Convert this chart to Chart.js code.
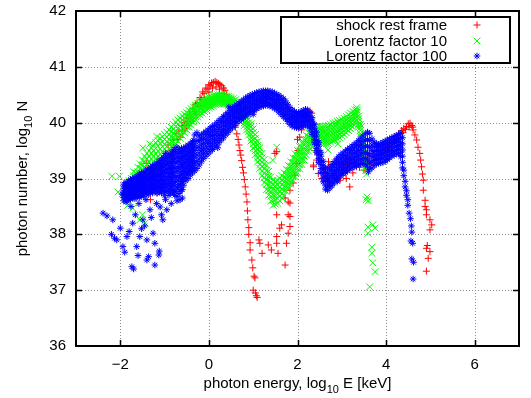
<!DOCTYPE html>
<html><head><meta charset="utf-8">
<script src="https://cdn.jsdelivr.net/npm/chart.js@4.4.1/dist/chart.umd.min.js"></script>
<style>html,body{margin:0;padding:0;background:#fff;}#wrap{width:531px;height:398px;position:relative}</style>
</head><body><div id="wrap"><canvas id="c" width="531" height="398"></canvas></div>
<script>
const xTicks = [-2, 0, 2, 4, 6];
const yTicks = [36, 37, 38, 39, 40, 41, 42];
const seriesNames = ['shock rest frame', 'Lorentz factor 10', 'Lorentz factor 100'];

// Each row: [log10 E, log10 N values read at that energy ...]
// shock rest frame
const redRows = [
[-1.56,38.95],[-1.5,39.1],[-1.45,38.8],[-1.4,39.27],[-1.38,39.0],[-1.32,38.62],[-1.29,38.85],[-1.25,39.15],[-1.2,38.95],[-1.17,38.74],[-1.15,39.35],[-1.1,39.06],[-1.06,39.2],[-1.02,38.9],[-0.98,39.45],[-0.95,39.27],[-0.92,39.6],[-0.88,39.38],[-0.86,39.2],[-0.84,39.5],[-0.81,39.69],[-0.8,39.56],[-0.77,39.42],[-0.74,39.8],[-0.7,39.7],[-0.68,39.85],[-0.65,39.74],[-0.62,39.95],[-0.6,39.85],[-0.56,40.0],[-0.54,39.9],[-0.5,40.08,39.95],[-0.47,40.02],[-0.43,40.15],[-0.4,40.1,40.02],[-0.36,40.25],[-0.33,40.2],[-0.3,40.33,40.15],[-0.27,40.35],[-0.24,40.3],[-0.2,40.45,40.3],[-0.17,40.42],[-0.14,40.55],[-0.11,40.52],[-0.1,40.42],[-0.07,40.62],[-0.04,40.6],[0.0,40.68,40.55],[0.03,40.66],[0.06,40.71],[0.08,40.62],[0.1,40.72],[0.14,40.74],[0.16,40.64],[0.18,40.72],[0.22,40.7],[0.24,40.6],[0.25,40.68],[0.29,40.66],[0.32,40.52],[0.33,40.62],[0.36,40.58],[0.4,40.5,40.4],[0.44,40.42],[0.48,40.35],[0.52,40.25],[0.55,40.12],[0.58,40.0],[0.6,39.92],[0.63,39.8],[0.66,39.7],[0.68,39.6],[0.7,39.5],[0.72,39.42],[0.74,39.32],[0.76,39.2],[0.78,39.1],[0.8,38.98],[0.82,38.85],[0.84,38.72],[0.86,38.58],[0.87,38.42],[0.88,38.26],[0.9,38.12,38.0],[0.93,37.85,37.72],[0.97,37.54],[0.99,37.4],[1.02,37.25],[1.04,37.22],[1.0,37.0],[1.05,36.95],[1.07,36.9],[1.09,36.87],[1.13,37.9],[1.15,37.84],[1.2,37.66],
[1.34,37.81],[1.41,37.72],[1.53,38.35,37.96,37.84],[1.56,37.66],[1.6,38.11],[1.64,38.17],[1.72,37.45],[1.75,37.84],[1.79,38.02,38.35,38.58],[1.72,38.65],[1.83,38.79,38.56,38.32,38.14],[1.53,39.48],[1.49,39.45],
[1.9,38.92],[1.94,39.06],[1.98,39.27],[2.01,39.5],[2.05,39.74],[2.09,39.87],[2.0,39.7],[2.12,39.95],[2.17,40.1],[2.2,40.14],[2.24,40.2],[2.28,40.2],[2.32,40.17],[2.36,39.99,39.21,39.24],[2.39,39.74,39.5],[2.43,39.33],[2.47,39.09],[2.46,39.42],
[2.55,39.0],[2.6,39.2],[2.62,39.1],[2.65,39.05],[2.7,38.95,39.3],[2.73,38.92],[2.75,39.2],[2.8,39.05,39.25],[2.85,39.1],[2.88,39.15],[2.9,39.0,39.35],[2.95,39.25],[2.96,38.97],[3.0,39.1,39.3],[3.05,39.2],[3.1,39.0,39.35],[3.11,39.15],[3.15,39.25],[3.18,38.85],[3.2,39.3],[3.25,39.1],[3.28,39.35],[3.3,39.25],[3.33,39.21],[3.35,39.4],[3.4,39.2],[3.42,39.28],[3.45,39.35],[3.5,39.15,39.3],[3.55,39.42],[3.56,39.27],[3.6,39.35],[3.62,39.45],[3.65,39.25],[3.7,39.45],[3.71,39.39],[3.75,39.32],[3.8,39.35,39.48],[3.85,39.42],[3.9,39.42],[3.93,39.51],[3.95,39.6],[4.0,39.5,39.6],[4.05,39.55],[4.08,39.62],[4.12,39.65],[4.16,39.69],[4.2,39.75],[4.22,39.68],[4.25,39.72],[4.28,39.76],[4.31,39.81],[4.35,39.86],[4.38,39.82],[4.4,39.9],[4.44,39.88],[4.46,39.93],[4.5,39.98],[4.52,39.92],[4.54,39.99],[4.58,39.95],[4.6,39.92],[4.61,39.87],[4.65,39.78],[4.69,39.69],[4.72,39.56],[4.76,39.45],[4.78,39.33],[4.8,39.21],[4.82,39.08],[4.84,38.97,38.79],[4.88,38.61,38.5],[4.91,38.44,38.35],[4.99,38.26,38.08],[5.03,38.17],[4.91,37.75,37.34],[4.99,37.69],[4.95,37.57],[4.93,37.8]
];

// Lorentz factor 10
const greenRows = [
[-2.19,39.04],[-2.02,39.04],[-2.05,38.76],[-1.83,38.52],[-1.72,38.47],[-1.56,38.26],[-1.44,38.2],[-1.5,38.35],
[-1.49,39.55],[-1.33,39.62],[-1.17,39.75],[2.69,39.51],[2.91,39.62],[1.53,39.56],[1.44,39.33],
[-1.85,38.72,38.78,38.84,38.9],[-1.8,38.7,38.77,38.83,38.9,38.96],[-1.75,38.74,38.8,38.87,38.94,39.0],[-1.7,38.76,38.83,38.9,38.98,39.05,39.12],[-1.65,38.8,38.86,38.92,38.98,39.04,39.1],[-1.6,38.8,38.88,38.96,39.04,39.12,39.2],[-1.55,38.85,38.93,39.01,39.1,39.18,39.26],[-1.5,38.9,38.99,39.07,39.16,39.24,39.33],[-1.45,38.93,39.02,39.12,39.21,39.31,39.4],[-1.4,38.96,39.06,39.16,39.25,39.35,39.45],[-1.35,39.0,39.1,39.2,39.3,39.4,39.5],[-1.3,39.05,39.15,39.25,39.35,39.45,39.55],[-1.25,39.1,39.2,39.3,39.4,39.5,39.6],[-1.2,39.15,39.25,39.35,39.44,39.54,39.64],[-1.15,39.2,39.3,39.39,39.49,39.58,39.68],[-1.1,39.25,39.34,39.44,39.53,39.63,39.72],[-1.05,39.3,39.39,39.48,39.57,39.66,39.75],[-1.0,39.35,39.44,39.53,39.61,39.7,39.79],[-0.95,39.4,39.49,39.57,39.66,39.74,39.83],[-0.9,39.45,39.53,39.62,39.7,39.79,39.87],[-0.85,39.5,39.58,39.67,39.75,39.84,39.92],[-0.8,39.58,39.66,39.74,39.81,39.89,39.97],[-0.75,39.62,39.7,39.78,39.85,39.93,40.01],[-0.7,39.67,39.75,39.82,39.9,39.97,40.05],[-0.65,39.72,39.79,39.86,39.94,40.01,40.08],[-0.6,39.77,39.84,39.91,39.98,40.05,40.12],[-0.55,39.82,39.89,39.95,40.02,40.08,40.15],[-0.5,39.87,39.93,39.99,40.06,40.12,40.18],[-0.45,39.92,39.98,40.04,40.1,40.16,40.22],[-0.4,39.96,40.02,40.08,40.13,40.19,40.25],[-0.35,40.01,40.06,40.12,40.17,40.23,40.28],[-0.3,40.06,40.11,40.16,40.21,40.26,40.31],[-0.25,40.1,40.15,40.2,40.24,40.29,40.34],[-0.2,40.14,40.19,40.24,40.28,40.33,40.38],[-0.15,40.17,40.22,40.26,40.31,40.35,40.4],[-0.1,40.2,40.24,40.29,40.33,40.38,40.42],[-0.05,40.23,40.27,40.31,40.36,40.4,40.44],[0.0,40.26,40.3,40.34,40.38,40.42,40.46],[0.05,40.28,40.32,40.36,40.39,40.43,40.47],[0.1,40.3,40.34,40.37,40.41,40.44,40.48],[0.15,40.32,40.35,40.39,40.42,40.46,40.49],[0.2,40.33,40.36,40.4,40.43,40.47,40.5],[0.25,40.34,40.37,40.4,40.44,40.47,40.5],[0.3,40.34,40.37,40.4,40.44,40.47,40.5],[0.35,40.34,40.37,40.4,40.43,40.46,40.49],[0.4,40.33,40.36,40.39,40.42,40.45,40.48],[0.45,40.31,40.34,40.37,40.41,40.44,40.47],[0.5,40.28,40.31,40.35,40.38,40.42,40.45],[0.55,40.25,40.29,40.32,40.36,40.39,40.43],[0.6,40.2,40.24,40.28,40.33,40.37,40.41],[0.65,40.15,40.19,40.24,40.28,40.33,40.37],[0.7,40.1,40.14,40.19,40.23,40.28,40.32],[0.75,40.03,40.08,40.13,40.17,40.22,40.27],[0.8,39.95,40.0,40.05,40.11,40.16,40.21],[0.85,39.87,39.92,39.98,40.03,40.09,40.14],[0.9,39.78,39.84,39.89,39.95,40.0,40.06],[0.95,39.67,39.73,39.79,39.86,39.92,39.98],[1.0,39.55,39.62,39.69,39.75,39.82,39.89],[1.05,39.43,39.5,39.57,39.65,39.72,39.79],[1.1,39.3,39.37,39.44,39.52,39.59,39.66],[1.15,39.18,39.25,39.33,39.4,39.48,39.55],[1.2,39.05,39.13,39.21,39.29,39.37,39.45],[1.25,38.93,39.01,39.09,39.18,39.26,39.34],[1.3,38.8,38.89,38.98,39.06,39.15,39.24],[1.35,38.7,38.79,38.87,38.96,39.04,39.13],[1.4,38.6,38.69,38.77,38.86,38.94,39.03],[1.45,38.52,38.61,38.7,38.79,38.88,38.97],[1.5,38.54,38.62,38.71,38.79,38.87,38.95],[1.55,38.56,38.64,38.72,38.81,38.89,38.97],[1.6,38.6,38.68,38.76,38.84,38.92,39.0],[1.65,38.65,38.73,38.81,38.89,38.97,39.05],[1.7,38.7,38.78,38.86,38.94,39.02,39.1],[1.75,38.77,38.85,38.93,39.0,39.08,39.16],[1.8,38.83,38.91,38.99,39.07,39.15,39.23],[1.85,38.9,38.98,39.06,39.14,39.22,39.3],[1.9,38.97,39.05,39.13,39.21,39.29,39.37],[1.95,39.03,39.11,39.19,39.28,39.36,39.44],[2.0,39.1,39.18,39.26,39.34,39.42,39.5],[2.05,39.17,39.25,39.33,39.41,39.49,39.57],[2.1,39.25,39.33,39.41,39.48,39.56,39.64],[2.15,39.33,39.4,39.48,39.55,39.63,39.7],[2.2,39.42,39.49,39.56,39.63,39.7,39.77],[2.25,39.49,39.56,39.62,39.69,39.75,39.82],[2.3,39.54,39.6,39.67,39.73,39.8,39.86],[2.35,39.58,39.64,39.71,39.77,39.83,39.89],[2.4,39.6,39.66,39.73,39.79,39.86,39.92],[2.45,39.62,39.68,39.74,39.81,39.87,39.93],[2.5,39.64,39.7,39.76,39.82,39.88,39.94],[2.55,39.63,39.69,39.75,39.81,39.87,39.93],[2.6,39.62,39.68,39.74,39.81,39.87,39.93],[2.65,39.62,39.68,39.75,39.81,39.88,39.94],[2.7,39.63,39.69,39.76,39.82,39.89,39.95],[2.75,39.65,39.71,39.78,39.84,39.91,39.97],[2.8,39.67,39.73,39.8,39.86,39.93,39.99],[2.85,39.69,39.75,39.82,39.88,39.94,40.0],[2.9,39.71,39.77,39.84,39.9,39.96,40.02],[2.95,39.73,39.79,39.86,39.92,39.98,40.04],[3.0,39.76,39.82,39.88,39.94,40.0,40.06],[3.05,39.79,39.85,39.91,39.96,40.02,40.08],[3.1,39.82,39.88,39.94,39.99,40.05,40.11],[3.15,39.86,39.92,39.97,40.03,40.08,40.14],[3.2,39.89,39.95,40.0,40.06,40.11,40.17],[3.25,39.93,39.98,40.04,40.09,40.15,40.2],[3.3,39.97,40.02,40.07,40.13,40.18,40.23],[3.34,40.05,40.1,40.14,40.19,40.23,40.27],[3.38,39.92,39.97,40.02,40.07,40.12],[3.42,39.75,39.8,39.86,39.91,39.97],[3.46,39.56,39.61,39.66,39.72,39.77],[3.5,39.36,39.41,39.46,39.51,39.56],[3.54,39.15,39.2,39.25,39.3,39.35],[3.56,39.08],
[3.57,38.67],[3.6,38.6],[3.55,38.62],[3.59,38.13,38.02],[3.7,38.17,37.49],[3.75,38.11,37.33],[3.68,37.77,37.66],[3.63,37.06]
];

// Lorentz factor 100
const blueRows = [
[-2.39,38.38],[-2.3,38.33],[-2.2,38.0],[-2.17,38.26],[-2.13,37.93],[-2.08,37.9],[-2.0,38.11],[-1.96,38.72],[-1.94,37.78],[-1.9,37.68],[-1.85,37.96],[-1.8,38.05],[-1.76,38.5],[-1.74,37.42],[-1.72,38.2],[-1.7,37.38],[-1.66,38.35],[-1.63,37.78],[-1.6,37.62],[-1.58,38.55],[-1.56,37.96],[-1.52,38.1],[-1.49,38.26],[-1.45,38.15],[-1.42,38.62],[-1.4,37.54,37.9],[-1.36,37.6],[-1.33,38.44],[-1.3,38.3],[-1.26,38.02],[-1.22,37.45,37.84],[-1.18,38.55],[-1.13,37.63],[-1.12,37.7],[-1.1,38.49],[-1.07,38.35],[-1.04,38.26],[-0.98,38.62],[-0.95,38.44],[-0.9,38.7],[-0.85,38.55],[-0.8,38.75],[-0.72,38.6],[-0.65,38.62],[-0.6,38.8,38.65],[-1.0,38.7],[0.2,39.55],[0.45,40.28],[1.0,40.15],[2.9,38.95],[3.6,39.12],
[-1.92,38.6,38.66,38.72,38.79,38.85,38.9],[-1.87,38.58,38.65,38.71,38.78,38.85,38.93],[-1.82,38.62,38.68,38.75,38.82,38.88,38.95],[-1.77,38.63,38.7,38.76,38.83,38.9,38.98],[-1.72,38.65,38.71,38.78,38.85,38.92,39.0],[-1.67,38.64,38.71,38.79,38.86,38.94,39.02],[-1.62,38.67,38.74,38.82,38.9,38.97,39.04],[-1.57,38.66,38.74,38.82,38.9,38.99,39.08],[-1.52,38.7,38.78,38.86,38.94,39.02,39.1],[-1.47,38.68,38.76,38.85,38.93,39.01,39.1],[-1.42,38.72,38.8,38.89,38.97,39.06,39.15],[-1.37,38.71,38.8,38.89,38.98,39.06,39.15],[-1.32,38.75,38.84,38.93,39.02,39.11,39.2],[-1.27,38.74,38.84,38.93,39.03,39.12,39.22],[-1.22,38.78,38.87,38.97,39.06,39.16,39.25],[-1.17,38.74,38.85,38.96,39.06,39.17,39.28],[-1.12,38.76,38.87,38.98,39.09,39.2,39.3],[-1.07,38.74,38.86,38.98,39.1,39.22,39.35],[-1.02,38.78,38.9,39.02,39.14,39.26,39.38],[-0.97,38.76,38.89,39.03,39.17,39.31,39.45],[-0.92,38.78,38.91,39.04,39.18,39.3,39.42],[-0.87,38.74,38.88,39.02,39.16,39.3,39.44],[-0.82,38.76,38.9,39.05,39.2,39.34,39.48],[-0.77,38.7,38.86,39.02,39.18,39.36,39.52],[-0.72,38.68,38.85,39.03,39.21,39.39,39.56],[-0.67,38.73,38.89,39.05,39.21,39.37,39.52],[-0.62,38.8,38.95,39.1,39.25,39.4,39.54],[-0.57,38.88,39.01,39.14,39.28,39.41,39.54],[-0.52,38.96,39.08,39.2,39.33,39.45,39.57],[-0.47,39.0,39.12,39.24,39.36,39.48,39.6],[-0.42,39.06,39.17,39.29,39.4,39.51,39.62],[-0.37,39.1,39.21,39.32,39.44,39.55,39.66],[-0.32,39.14,39.26,39.38,39.5,39.62,39.78],[-0.27,39.18,39.3,39.42,39.55,39.68,39.82],
[-1.895,38.63,38.69,38.75,38.82,38.88],[-1.845,38.6,38.68,38.74,38.81,38.9],[-1.795,38.65,38.72,38.79,38.86,38.93],[-1.745,38.67,38.74,38.81,38.88,38.96],[-1.695,38.68,38.75,38.82,38.9,38.98],[-1.645,38.69,38.77,38.86,38.94,39.0],[-1.595,38.7,38.78,38.86,38.95,39.03],[-1.545,38.7,38.82,38.9,38.98,39.06],[-1.495,38.74,38.81,38.9,38.98,39.06],[-1.445,38.76,38.85,38.93,39.02,39.1],[-1.395,38.76,38.85,38.94,39.02,39.11],[-1.345,38.8,38.89,38.98,39.07,39.16],[-1.295,38.79,38.89,38.98,39.08,39.17],[-1.245,38.82,38.92,39.02,39.11,39.2],[-1.195,38.8,38.9,39.01,39.12,39.22],[-1.145,38.82,38.93,39.04,39.15,39.25],[-1.095,38.8,38.92,39.04,39.16,39.28],[-1.045,38.84,38.96,39.08,39.2,39.32],[-0.995,38.83,38.96,39.1,39.24,39.38],[-0.945,38.85,38.98,39.11,39.24,39.36],[-0.895,38.81,38.95,39.09,39.23,39.37],[-0.845,38.83,38.98,39.12,39.27,39.41],[-0.795,38.78,38.94,39.1,39.27,39.44],[-0.745,38.77,38.94,39.12,39.3,39.48],[-0.695,38.81,38.97,39.13,39.29,39.45],[-0.645,38.88,39.02,39.17,39.32,39.47],[-0.595,38.95,39.08,39.21,39.35,39.48],[-0.545,39.02,39.14,39.26,39.39,39.51],[-0.495,39.06,39.18,39.3,39.42,39.54],[-0.445,39.12,39.23,39.34,39.46,39.57],[-0.395,39.16,39.27,39.38,39.5,39.61],[-0.345,39.2,39.32,39.44,39.56,39.68],
[-0.22,39.24,39.35,39.46,39.56,39.66,39.76],[-0.17,39.3,39.4,39.5,39.6,39.7,39.78],[-0.12,39.36,39.45,39.54,39.63,39.72,39.81],[-0.07,39.4,39.49,39.58,39.67,39.76,39.84],[-0.02,39.44,39.53,39.62,39.7,39.79,39.87],[0.03,39.48,39.57,39.65,39.74,39.82,39.9],[0.08,39.52,39.6,39.69,39.77,39.85,39.93],[0.13,39.56,39.64,39.72,39.8,39.88,39.96],[0.18,39.6,39.68,39.76,39.84,39.92,40.0],[0.23,39.64,39.72,39.8,39.88,39.96,40.04],[0.28,39.69,39.77,39.84,39.92,40.0,40.07],[0.33,39.73,39.81,39.88,39.96,40.03,40.11],[0.38,39.78,39.85,39.93,40.0,40.07,40.15],[0.43,39.82,39.89,39.97,40.04,40.11,40.18],[0.48,39.87,39.94,40.01,40.08,40.15,40.22],[0.53,39.91,39.98,40.05,40.12,40.19,40.26],[0.58,39.95,40.02,40.09,40.16,40.22,40.29],[0.63,39.99,40.06,40.12,40.19,40.25,40.32],[0.68,40.03,40.09,40.16,40.22,40.29,40.35],[0.73,40.06,40.12,40.19,40.25,40.32,40.38],[0.78,40.09,40.15,40.22,40.28,40.35,40.41],[0.83,40.12,40.18,40.25,40.31,40.38,40.44],[0.88,40.15,40.21,40.27,40.34,40.4,40.47],[0.93,40.17,40.23,40.3,40.36,40.43,40.49],[0.98,40.2,40.26,40.32,40.39,40.45,40.51],[1.03,40.22,40.28,40.34,40.4,40.46,40.52],[1.08,40.25,40.31,40.37,40.42,40.48,40.54],[1.13,40.27,40.33,40.38,40.44,40.49,40.55],[1.18,40.29,40.35,40.4,40.45,40.51,40.56],[1.23,40.3,40.36,40.41,40.46,40.52,40.57],[1.28,40.31,40.36,40.42,40.47,40.52,40.57],[1.33,40.31,40.36,40.42,40.47,40.52,40.57],[1.38,40.3,40.35,40.41,40.46,40.51,40.56],[1.43,40.28,40.33,40.39,40.44,40.5,40.55],[1.48,40.26,40.31,40.37,40.42,40.48,40.53],[1.53,40.23,40.28,40.34,40.4,40.46,40.51],[1.58,40.19,40.25,40.31,40.37,40.43,40.49],[1.63,40.15,40.21,40.27,40.33,40.4,40.46],[1.68,40.11,40.17,40.23,40.3,40.36,40.43],[1.73,40.07,40.13,40.19,40.26,40.32,40.39],[1.78,40.02,40.08,40.14,40.21,40.27,40.33],[1.83,39.97,40.03,40.09,40.15,40.21,40.27],[1.88,39.94,40.0,40.06,40.11,40.17,40.23],[1.93,39.92,39.98,40.03,40.09,40.14,40.2],[1.98,39.91,39.96,40.02,40.07,40.13,40.18],[2.03,39.91,39.96,40.02,40.07,40.13,40.18],[2.08,39.92,39.98,40.03,40.09,40.14,40.2],[2.13,39.94,40.0,40.05,40.11,40.16,40.22],[2.18,39.96,40.02,40.07,40.13,40.18,40.24],[2.23,39.94,40.0,40.05,40.11,40.17,40.23],[2.28,39.89,39.95,40.01,40.06,40.12,40.18],[2.33,39.79,39.85,39.91,39.97,40.03,40.09],[2.38,39.64,39.7,39.76,39.83,39.9,39.97],[2.43,39.47,39.54,39.61,39.68,39.76,39.83],[2.48,39.29,39.36,39.43,39.5,39.58,39.65],[2.53,39.11,39.18,39.25,39.32,39.4,39.47],[2.58,38.94,39.01,39.08,39.16,39.23,39.31],[2.63,38.81,38.88,38.96,39.03,39.11,39.19],[2.68,38.79,38.86,38.94,39.01,39.09,39.17],[2.73,38.83,38.9,38.98,39.05,39.13,39.21],[2.78,38.87,38.94,39.02,39.09,39.17,39.25],[2.83,38.92,38.99,39.07,39.14,39.22,39.3],[2.88,38.97,39.04,39.12,39.19,39.27,39.35],[2.93,39.01,39.08,39.16,39.23,39.31,39.39],[2.98,39.05,39.12,39.2,39.27,39.35,39.43],[3.03,39.08,39.15,39.23,39.3,39.38,39.46],[3.08,39.11,39.18,39.26,39.33,39.41,39.49],[3.13,39.14,39.21,39.29,39.36,39.44,39.52],[3.18,39.17,39.24,39.32,39.39,39.47,39.55],[3.23,39.19,39.27,39.34,39.42,39.5,39.58],[3.28,39.21,39.29,39.37,39.45,39.53,39.61],[3.33,39.23,39.31,39.39,39.47,39.56,39.64],[3.38,39.25,39.33,39.42,39.5,39.59,39.68],[3.43,39.26,39.35,39.44,39.53,39.62,39.72],[3.48,39.27,39.36,39.46,39.56,39.66,39.76],[3.53,39.25,39.36,39.47,39.58,39.69,39.8],[3.58,39.21,39.33,39.45,39.58,39.7,39.83],[3.63,39.17,39.29,39.42,39.55,39.68,39.81],[3.68,39.19,39.29,39.39,39.5,39.6,39.71],[3.73,39.23,39.32,39.4,39.48,39.57,39.65],[3.78,39.26,39.34,39.42,39.5,39.57,39.63],[3.83,39.27,39.35,39.42,39.49,39.56,39.61],[3.88,39.28,39.35,39.43,39.5,39.57,39.63],[3.93,39.29,39.37,39.44,39.51,39.58,39.65],[3.98,39.31,39.38,39.46,39.53,39.6,39.67],[4.03,39.34,39.41,39.48,39.55,39.62,39.69],[4.08,39.37,39.44,39.5,39.57,39.64,39.71],[4.13,39.4,39.46,39.53,39.6,39.66,39.73],[4.18,39.42,39.48,39.55,39.62,39.68,39.75],[4.23,39.44,39.5,39.57,39.64,39.7,39.77],[4.28,39.45,39.52,39.59,39.66,39.72,39.79],[4.33,39.39,39.47,39.56,39.64,39.72,39.81],[4.37,39.19,39.29,39.4,39.51,39.62,39.73],
[4.4,39.05,39.15],[4.43,38.85,38.95],[4.46,38.7,38.78],[4.49,38.52,38.62],[4.52,38.38],[4.55,38.28],[4.57,38.15],[4.58,38.04],[4.56,37.88],[4.6,37.84],[4.58,37.56],[4.62,37.5],[4.61,37.2]
];

const COLORS = ['#ff0000', '#00ff00', '#0000ff'];
const STYLES = ['cross', 'crossRot', 'star'];
const RADII = [3.5, 4.8, 3.3];
const FONT = "'Liberation Sans', Arial, Helvetica, sans-serif";
const toXY = rows => rows.flatMap(r => r.slice(1).map(v => ({x: r[0], y: v})));

const gnuplotDecor = {
  id: 'gnuplotDecor',
  beforeDatasetsDraw(chart) {
    const {ctx, chartArea: a, scales: {x, y}} = chart;
    ctx.save();
    ctx.strokeStyle = '#8a8a8a';
    ctx.lineWidth = 1;
    ctx.setLineDash([1, 2]);
    xTicks.forEach(v => {
      const px = Math.round(x.getPixelForValue(v)) + 0.5;
      ctx.beginPath(); ctx.moveTo(px, a.top); ctx.lineTo(px, a.bottom); ctx.stroke();
    });
    yTicks.forEach(v => {
      if (v === y.min || v === y.max) return;
      const py = Math.round(y.getPixelForValue(v)) + 0.5;
      ctx.beginPath(); ctx.moveTo(a.left, py); ctx.lineTo(a.right, py); ctx.stroke();
    });
    ctx.restore();
  },
  afterDatasetsDraw(chart) {
    const {ctx, chartArea: a, scales: {x, y}} = chart;
    ctx.save();
    ctx.strokeStyle = '#000';
    ctx.lineWidth = 2;
    ctx.strokeRect(a.left, a.top, a.right - a.left, a.bottom - a.top);
    const tl = 6;
    ctx.lineWidth = 1.5;
    xTicks.forEach(v => {
      const px = Math.round(x.getPixelForValue(v)) + 0.5;
      ctx.beginPath();
      ctx.moveTo(px, a.bottom); ctx.lineTo(px, a.bottom - tl);
      ctx.moveTo(px, a.top); ctx.lineTo(px, a.top + tl);
      ctx.stroke();
    });
    yTicks.forEach(v => {
      if (v === y.min || v === y.max) return;
      const py = Math.round(y.getPixelForValue(v)) + 0.5;
      ctx.beginPath();
      ctx.moveTo(a.left, py); ctx.lineTo(a.left + tl, py);
      ctx.moveTo(a.right, py); ctx.lineTo(a.right - tl, py);
      ctx.stroke();
    });
    // legend
    const L = {x: 281, y: 17, w: 229, h: 46};
    ctx.fillStyle = '#fff';
    ctx.fillRect(L.x, L.y, L.w, L.h);
    ctx.lineWidth = 2;
    ctx.strokeStyle = '#000';
    ctx.strokeRect(L.x, L.y, L.w, L.h);
    const rows = [25, 41, 56];
    ctx.font = '15px ' + FONT;
    ctx.textAlign = 'right';
    ctx.textBaseline = 'middle';
    seriesNames.forEach((name, i) => {
      ctx.fillStyle = '#000';
      ctx.fillText(name, 447, rows[i] + 1);
      ctx.strokeStyle = COLORS[i];
      ctx.lineWidth = 1;
      Chart.helpers.drawPoint(ctx, {pointStyle: STYLES[i], radius: RADII[i], borderWidth: 1, rotation: 0}, 477, rows[i]);
    });
    // axis titles with subscripts
    const drawTitle = (parts, cx, cy, rot) => {
      ctx.save();
      ctx.translate(cx, cy);
      if (rot) ctx.rotate(-Math.PI / 2);
      ctx.textAlign = 'left';
      ctx.textBaseline = 'alphabetic';
      ctx.fillStyle = '#000';
      let total = 0;
      parts.forEach(p => { ctx.font = (p.sub ? '11px ' : '15px ') + FONT; total += ctx.measureText(p.t).width; });
      let xx = -total / 2;
      parts.forEach(p => {
        ctx.font = (p.sub ? '11px ' : '15px ') + FONT;
        ctx.fillText(p.t, xx, p.sub ? 4.5 : 0);
        xx += ctx.measureText(p.t).width;
      });
      ctx.restore();
    };
    const cxp = (a.left + a.right) / 2, cyp = (a.top + a.bottom) / 2;
    drawTitle([{t: 'photon energy, log'}, {t: '10', sub: true}, {t: ' E [keV]'}], cxp, 388, false);
    drawTitle([{t: 'photon number, log'}, {t: '10', sub: true}, {t: ' N'}], 27, cyp, true);
    ctx.restore();
  }
};

const fmt = v => (v < 0 ? '\u2212' + Math.abs(v) : String(v));

new Chart(document.getElementById('c'), {
  type: 'scatter',
  data: {
    datasets: [redRows, greenRows, blueRows].map((rows, i) => ({
      label: seriesNames[i],
      data: toXY(rows),
      pointStyle: STYLES[i],
      pointRadius: RADII[i],
      pointHoverRadius: RADII[i],
      borderColor: COLORS[i],
      backgroundColor: COLORS[i],
      borderWidth: 1,
      order: 3 - i
    }))
  },
  options: {
    responsive: false,
    animation: false,
    events: [],
    layout: {padding: {left: 0, top: 11, right: 12, bottom: 0}},
    plugins: {legend: {display: false}, tooltip: {enabled: false}},
    scales: {
      x: {
        type: 'linear', min: -3, max: 7,
        afterBuildTicks: s => { s.ticks = xTicks.map(v => ({value: v})); },
        afterFit: s => { s.height = 52; s.paddingLeft = 0; s.paddingRight = 0; },
        grid: {display: false, drawTicks: false},
        border: {display: false},
        ticks: {color: '#000', font: {family: FONT, size: 15}, padding: 10, maxRotation: 0, callback: fmt}
      },
      y: {
        type: 'linear', min: 36, max: 42,
        afterBuildTicks: s => { s.ticks = yTicks.map(v => ({value: v})); },
        afterFit: s => { s.width = 76; s.paddingTop = 0; s.paddingBottom = 0; },
        grid: {display: false, drawTicks: false},
        border: {display: false},
        ticks: {color: '#000', font: {family: FONT, size: 15}, padding: 10, callback: fmt}
      }
    }
  },
  plugins: [gnuplotDecor]
});
</script>
</body></html>
